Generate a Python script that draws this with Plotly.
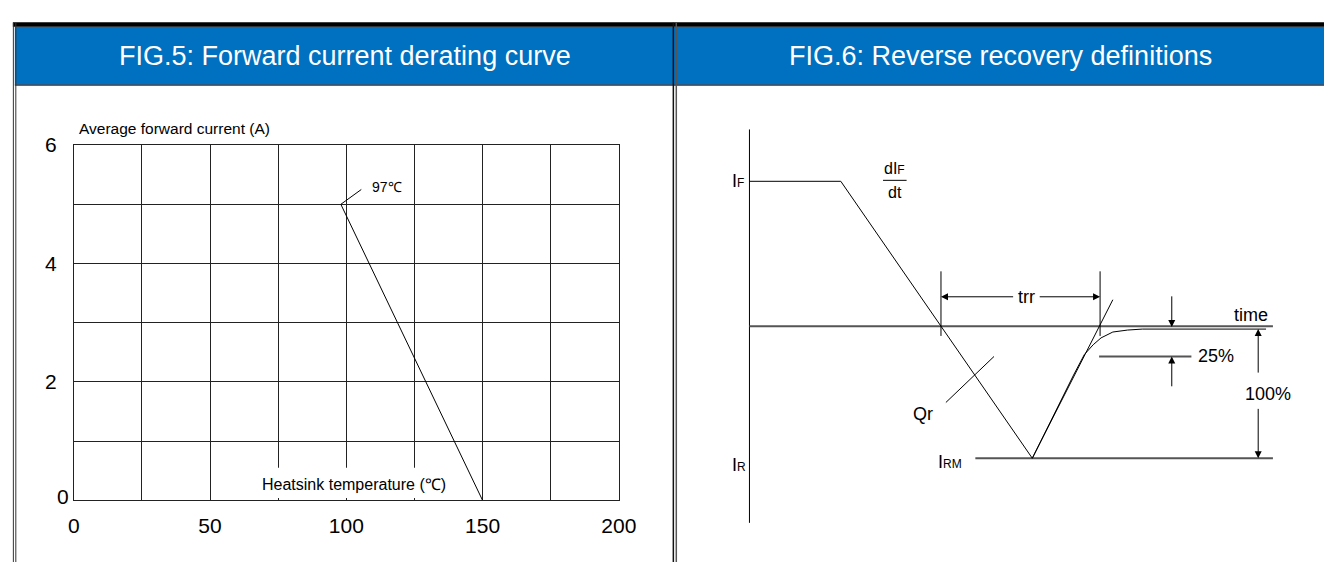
import plotly.graph_objects as go

W, H = 1342, 562
FONT = "Liberation Sans, Arial, sans-serif"

# ---- FIG.5 data: forward current derating curve
temp_ticks = [0, 25, 50, 75, 100, 125, 150, 175, 200]
temp_labels = ["0", "", "50", "", "100", "", "150", "", "200"]
curr_ticks = [0, 1, 2, 3, 4, 5, 6]
curr_labels = ["", "", "2", "", "4", "", "6"]
derate_temp = [98, 150]
derate_curr = [5, 0]
knee_lead_temp = [98, 105.5]
knee_lead_curr = [5, 5.25]
knee_label = "97℃"

# ---- FIG.6 data: reverse recovery schematic (t = time units, i = current units)
axis_t = [0, 0]
axis_i = [201, -201]
zero_t = [0, 533]
zero_i = [0, 0]
wave_t = [0, 93, 288]
wave_i = [148, 148, -135]
tangent_t = [288, 370]
tangent_i = [-135, 27]
recov_t = [288, 310, 330, 341, 350, 358, 370, 385, 400, 526]
recov_i = [-135, -90, -50, -29, -19, -12, -6, -4, -3, -3]
irm_t = [230, 533]
irm_i = [-135, -135]
trr_t = [195, 357]
trr_i = [56, -10]
trr_arrow_i = 30
pct25_t = [356, 450]
pct25_i = [-31, -31]
qr_t = [200, 249]
qr_i = [-78, -31]
frac_t = [136, 160]
frac_i = [149, 149]


def px(x):
    return x / W


def py(y):
    return 1 - y / H


fig = go.Figure()

# left chart
fig.add_trace(go.Scatter(x=derate_temp, y=derate_curr, mode="lines",
                         line=dict(color="black", width=1), xaxis="x", yaxis="y"))
fig.add_trace(go.Scatter(x=knee_lead_temp, y=knee_lead_curr, mode="lines",
                         line=dict(color="black", width=1), xaxis="x", yaxis="y"))

# right chart lines
thin = dict(color="black", width=1)
grey = dict(color="#555555", width=2)
for xs, ys, ln in [
    (axis_t, axis_i, thin),
    (zero_t, zero_i, grey),
    (irm_t, irm_i, grey),
    (wave_t, wave_i, thin),
    (tangent_t, tangent_i, thin),
    (recov_t, recov_i, thin),
    ([trr_t[0], trr_t[0]], trr_i, thin),
    ([trr_t[1], trr_t[1]], trr_i, thin),
    (pct25_t, pct25_i, grey),
    (qr_t, qr_i, thin),
    (frac_t, frac_i, thin),
]:
    fig.add_trace(go.Scatter(x=xs, y=ys, mode="lines", line=ln, xaxis="x2", yaxis="y2"))

shapes = [
    # header band
    dict(type="rect", xref="paper", yref="paper", x0=px(9), x1=1, y0=py(74), y1=py(15),
         fillcolor="#0070C0", line=dict(width=0), layer="below"),
    dict(type="line", xref="paper", yref="paper", x0=px(9), x1=1, y0=py(74.5), y1=py(74.5),
         line=dict(color="#1d3550", width=1.5)),
    # top border
    dict(type="rect", xref="paper", yref="paper", x0=px(7), x1=1, y0=py(15), y1=py(10.5),
         fillcolor="black", line=dict(width=0)),
    # left border (double)
    dict(type="line", xref="paper", yref="paper", x0=px(7.5), x1=px(7.5), y0=0, y1=py(11),
         line=dict(color="#333333", width=1)),
    dict(type="line", xref="paper", yref="paper", x0=px(10), x1=px(10), y0=0, y1=py(11),
         line=dict(color="#333333", width=1)),
    # divider (double)
    dict(type="line", xref="paper", yref="paper", x0=px(679.5), x1=px(679.5), y0=0, y1=py(11),
         line=dict(color="#111111", width=1.5)),
    dict(type="line", xref="paper", yref="paper", x0=px(682.5), x1=px(682.5), y0=0, y1=py(11),
         line=dict(color="#555555", width=1.5)),
    # mask behind x-axis title
    dict(type="rect", xref="x", yref="y", x0=66, x1=140, y0=0.04, y1=0.55,
         fillcolor="white", line=dict(width=0), layer="above"),
]


def arrow(xt, yt, xa, ya):
    return dict(x=xt, y=yt, ax=xa, ay=ya, xref="x2", yref="y2", axref="x2", ayref="y2",
                text="", showarrow=True, arrowhead=2, arrowsize=1.4, arrowwidth=1,
                arrowcolor="black")


def label(x, y, text, size=18, xa="center", xref="x2", yref="y2", color="black"):
    return dict(x=x, y=y, xref=xref, yref=yref, text=text, showarrow=False,
                xanchor=xa, yanchor="middle", font=dict(size=size, color=color, family=FONT))


sub = "<span style='font-size:12px'>%s</span>"

annotations = [
    label(px(345), py(45), "FIG.5: Forward current derating curve", 27,
          xref="paper", yref="paper", color="white"),
    label(px(1013), py(45), "FIG.6: Reverse recovery definitions", 27,
          xref="paper", yref="paper", color="white"),
    label(px(72), py(119), "Average forward current (A)", 15.5, xa="left",
          xref="paper", yref="paper"),
    label(103, 0.27, "Heatsink temperature (℃)", 16, xref="x", yref="y"),
    label(115, 5.3, knee_label, 14, xref="x", yref="y"),
    dict(x=0, y=0, xref="x", yref="y", text="0", showarrow=False, xanchor="right",
         yanchor="middle", xshift=-3, yshift=4, font=dict(size=21, color="black", family=FONT)),
    # FIG.6 labels
    label(-4, 148, "I" + sub % "F", xa="right"),
    label(-2, -142, "I" + sub % "R", xa="right"),
    label(204, -139, "I" + sub % "RM"),
    label(148, 161, "dI" + sub % "F", 16),
    label(148, 137, "dt", 16),
    label(282, trr_arrow_i, "trr"),
    label(511, 11, "time"),
    label(455, -31, "25%", xa="left"),
    label(528, -69, "100%"),
    label(177, -90, "Qr"),
    arrow(trr_t[0], trr_arrow_i, 270, trr_arrow_i),
    arrow(trr_t[1], trr_arrow_i, 294, trr_arrow_i),
    arrow(430, -1, 430, 32),
    arrow(430, -31, 430, -63),
    arrow(518, -3, 518, -49),
    arrow(518, -135, 518, -83),
]

fig.update_layout(
    width=W, height=H, margin=dict(l=0, r=0, t=0, b=0),
    paper_bgcolor="white", plot_bgcolor="rgba(0,0,0,0)", showlegend=False,
    font=dict(family=FONT, color="black"),
    xaxis=dict(domain=[px(69), px(624)], range=[0, 200], tickvals=temp_ticks,
               ticktext=temp_labels, showgrid=True, gridcolor="#222222", gridwidth=1,
               zeroline=False, showline=True, mirror=True, linecolor="#222222",
               ticks="", ticklabelstandoff=6, tickfont=dict(size=21), fixedrange=True),
    yaxis=dict(domain=[py(499), py(136)], range=[0, 6], tickvals=curr_ticks,
               ticktext=curr_labels, showgrid=True, gridcolor="#222222", gridwidth=1,
               zeroline=False, showline=True, mirror=True, linecolor="#222222",
               ticks="", ticklabelstandoff=12, tickfont=dict(size=21), fixedrange=True),
    # right panel: t = page x - 757, i = 321 - page y
    xaxis2=dict(domain=[px(681), 1], range=[-76, 585], visible=False, fixedrange=True),
    yaxis2=dict(domain=[0, 1], range=[-241, 321], visible=False, fixedrange=True,
                anchor="x2"),
    shapes=shapes, annotations=annotations,
)

reset_page = "document.body.style.margin='0';"
fig.write_html("out.html", config={"displayModeBar": False}, post_script=reset_page)
